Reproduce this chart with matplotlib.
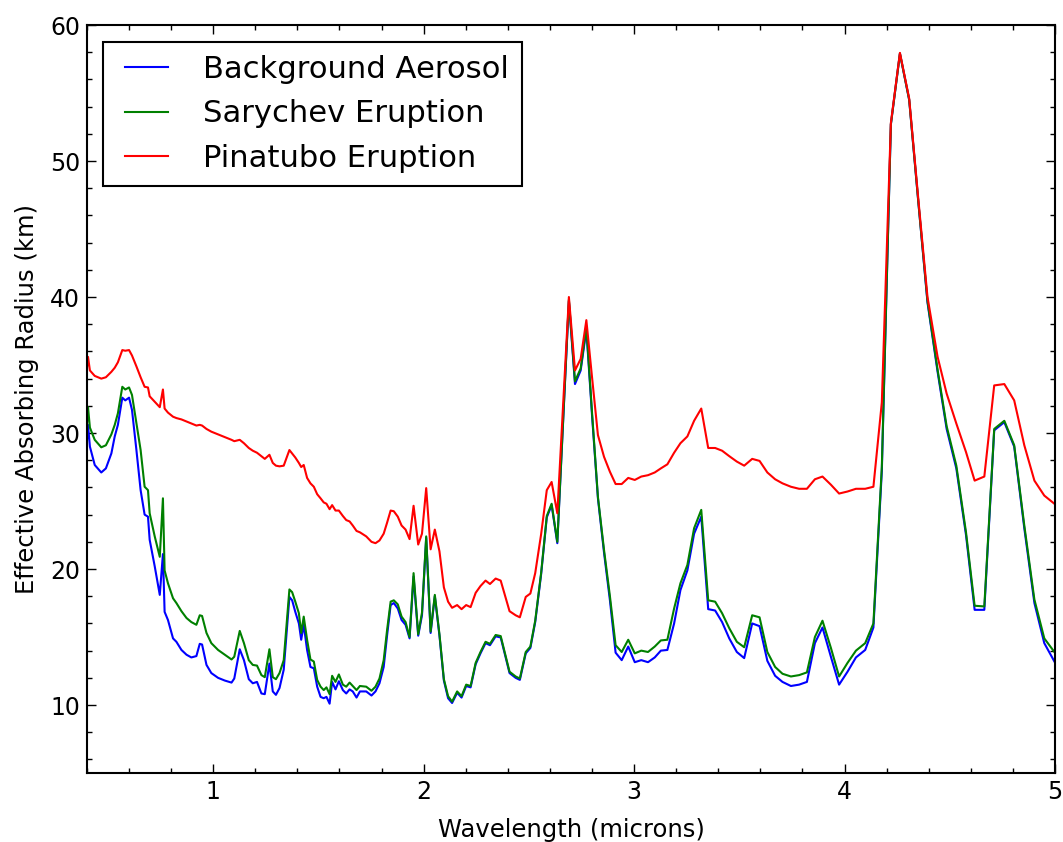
import matplotlib
matplotlib.use("Agg")
import matplotlib.pyplot as plt
from matplotlib.ticker import MultipleLocator

# Wavelength grid (microns)
wavelength = [
    0.400, 0.405, 0.414, 0.437, 0.468, 0.490, 0.516, 0.532, 0.547, 0.568,
    0.582, 0.600, 0.614, 0.635, 0.655, 0.674, 0.690, 0.698, 0.722, 0.746,
    0.761, 0.769, 0.785, 0.809, 0.825, 0.849, 0.873, 0.896, 0.920, 0.936,
    0.947, 0.968, 0.991, 1.023, 1.055, 1.087, 1.100, 1.126, 1.146, 1.169,
    1.188, 1.208, 1.229, 1.245, 1.267, 1.283, 1.298, 1.315, 1.335, 1.362,
    1.375, 1.390, 1.407, 1.418, 1.430, 1.446, 1.462, 1.478, 1.494, 1.510,
    1.525, 1.538, 1.553, 1.565, 1.581, 1.597, 1.616, 1.632, 1.648, 1.663,
    1.681, 1.697, 1.727, 1.752, 1.771, 1.790, 1.810, 1.826, 1.843, 1.858,
    1.877, 1.895, 1.914, 1.933, 1.952, 1.974, 1.992, 2.012, 2.033, 2.053,
    2.075, 2.096, 2.116, 2.135, 2.159, 2.180, 2.202, 2.223, 2.247, 2.270,
    2.294, 2.315, 2.342, 2.366, 2.408, 2.437, 2.457, 2.485, 2.507, 2.530,
    2.558, 2.585, 2.608, 2.635, 2.690, 2.719, 2.746, 2.773, 2.800, 2.828,
    2.857, 2.885, 2.912, 2.941, 2.972, 3.003, 3.034, 3.066, 3.098, 3.127,
    3.158, 3.190, 3.220, 3.253, 3.285, 3.319, 3.352, 3.385, 3.418, 3.452,
    3.488, 3.523, 3.561, 3.596, 3.633, 3.670, 3.705, 3.745, 3.784, 3.821,
    3.859, 3.895, 3.935, 3.974, 4.014, 4.054, 4.098, 4.137, 4.177, 4.220,
    4.263, 4.307, 4.351, 4.394, 4.442, 4.485, 4.531, 4.577, 4.618, 4.664,
    4.711, 4.759, 4.806, 4.854, 4.902, 4.949, 4.997,
]

# Effective absorbing radius (km)
background = [
    29.4, 30.6, 29.0, 27.65, 27.1, 27.4, 28.5, 29.75, 30.6, 32.6,
    32.4, 32.6, 31.7, 28.75, 25.8, 24.0, 23.85, 22.15, 20.2, 18.1,
    21.1, 16.85, 16.25, 14.9, 14.65, 14.05, 13.7, 13.5, 13.6, 14.5,
    14.45, 12.95, 12.35, 12.0, 11.8, 11.65, 11.95, 14.1, 13.3, 11.9,
    11.6, 11.7, 10.85, 10.8, 13.05, 11.0, 10.75, 11.25, 12.6, 17.95,
    17.7, 16.85, 16.0, 14.8, 15.9, 14.05, 12.8, 12.7, 11.35, 10.6,
    10.5, 10.6, 10.1, 11.7, 11.15, 11.75, 11.1, 10.85, 11.15, 11.0,
    10.55, 11.0, 11.0, 10.7, 11.0, 11.6, 12.8, 15.1, 17.35, 17.5,
    17.1, 16.25, 15.9, 14.9, 19.45, 15.1, 16.6, 22.3, 15.3, 18.0,
    15.1, 11.8, 10.5, 10.15, 10.9, 10.55, 11.4, 11.3, 13.0, 13.8,
    14.55, 14.4, 15.05, 14.97, 12.35, 12.0, 11.85, 13.8, 14.2, 16.1,
    19.6, 23.8, 24.7, 21.9, 39.7, 33.6, 34.6, 37.6, 31.3, 25.2,
    21.2, 17.7, 13.85, 13.3, 14.3, 13.15, 13.3, 13.15, 13.5, 14.0,
    14.05, 16.0, 18.45, 19.9, 22.6, 23.85, 17.05, 16.95, 16.1, 14.9,
    13.9, 13.45, 16.0, 15.8, 13.25, 12.15, 11.7, 11.4, 11.5, 11.7,
    14.55, 15.7, 13.55, 11.5, 12.45, 13.5, 14.05, 15.7, 27.2, 52.7,
    57.9, 54.5, 46.9, 39.6, 34.5, 30.3, 27.4, 22.5, 17.0, 17.0,
    30.2, 30.8, 29.0, 23.0, 17.5, 14.55, 13.2,
]

sarychev = [
    30.6, 31.9, 30.4, 29.5, 28.95, 29.1, 29.9, 30.6, 31.45, 33.4,
    33.2, 33.35, 32.8, 30.7, 28.75, 26.05, 25.8, 24.1, 22.4, 20.9,
    25.2, 19.9, 18.95, 17.85, 17.5, 16.9, 16.4, 16.1, 15.9, 16.6,
    16.55, 15.3, 14.55, 14.05, 13.7, 13.35, 13.55, 15.45, 14.55, 13.3,
    12.95, 12.9, 12.2, 12.05, 14.1, 12.05, 11.9, 12.35, 13.3, 18.5,
    18.3, 17.6, 16.75, 15.3, 16.5, 14.8, 13.35, 13.2, 11.85, 11.35,
    11.1, 11.3, 10.8, 12.15, 11.7, 12.25, 11.5, 11.35, 11.65, 11.4,
    11.1, 11.4, 11.35, 11.05, 11.35, 11.95, 13.3, 15.5, 17.6, 17.7,
    17.4, 16.5, 16.1, 15.0, 19.7, 15.2, 16.8, 22.4, 15.4, 18.1,
    15.2, 11.9, 10.65, 10.25, 11.0, 10.65, 11.5, 11.4, 13.1, 13.9,
    14.65, 14.5, 15.15, 15.07, 12.45, 12.1, 11.95, 13.9, 14.3, 16.2,
    19.7, 23.9, 24.8, 22.0, 39.8, 33.8, 34.75, 37.8, 31.5, 25.3,
    21.4, 18.0, 14.4, 13.9, 14.8, 13.8, 14.0, 13.9, 14.3, 14.75,
    14.8, 17.1, 18.95, 20.3, 23.0, 24.35, 17.7, 17.6, 16.75, 15.65,
    14.65, 14.25, 16.6, 16.45, 13.9, 12.8, 12.3, 12.1, 12.2, 12.4,
    15.0, 16.2, 14.2, 12.1, 13.1, 14.0, 14.55, 16.0, 27.5, 52.7,
    57.9, 54.5, 46.9, 39.7, 34.65, 30.5, 27.6, 22.7, 17.3, 17.25,
    30.3, 30.9, 29.1, 23.2, 17.75, 14.9, 13.9,
]

pinatubo = [
    34.8, 35.6, 34.6, 34.2, 34.0, 34.1, 34.5, 34.8, 35.2, 36.1,
    36.05, 36.1, 35.7, 34.9, 34.1, 33.4, 33.35, 32.7, 32.3, 31.9,
    33.2, 31.8, 31.5, 31.2, 31.1, 31.0, 30.85, 30.7, 30.55, 30.6,
    30.55, 30.3, 30.1, 29.9, 29.7, 29.5, 29.4, 29.5, 29.25, 28.9,
    28.7, 28.55, 28.3, 28.1, 28.4, 27.8, 27.6, 27.55, 27.6, 28.75,
    28.5, 28.2, 27.8, 27.5, 27.65, 26.7, 26.3, 26.05, 25.5, 25.2,
    24.9, 24.8, 24.4, 24.7, 24.3, 24.3, 23.9, 23.6, 23.5, 23.2,
    22.8, 22.7, 22.4, 22.0, 21.9, 22.1, 22.6, 23.4, 24.3, 24.25,
    23.85, 23.2, 22.9, 22.2, 24.65, 21.8, 22.6, 25.95, 21.45, 22.9,
    21.3, 18.65, 17.6, 17.15, 17.35, 17.05, 17.35, 17.2, 18.25, 18.75,
    19.15, 18.9, 19.3, 19.15, 16.9, 16.6, 16.45, 17.95, 18.2, 19.7,
    22.55, 25.8, 26.4, 24.1, 40.0, 34.6, 35.45, 38.3, 34.1, 29.85,
    28.25, 27.15, 26.25, 26.25, 26.7, 26.55, 26.8, 26.9, 27.1, 27.4,
    27.7, 28.55, 29.25, 29.75, 30.9, 31.8, 28.9, 28.9, 28.7, 28.3,
    27.9, 27.6, 28.1, 27.95, 27.1, 26.6, 26.3, 26.05, 25.9, 25.9,
    26.6, 26.8, 26.2, 25.55, 25.7, 25.9, 25.9, 26.05, 32.25, 52.8,
    57.95, 54.6, 47.1, 40.0, 35.6, 32.9, 30.7, 28.6, 26.5, 26.8,
    33.5, 33.6, 32.4, 29.1, 26.5, 25.4, 24.8,
]

series_labels = ["Background Aerosol", "Sarychev Eruption", "Pinatubo Eruption"]
x_label = "Wavelength (microns)"
y_label = "Effective Absorbing Radius (km)"

fig = plt.figure(figsize=(10.63, 8.42), dpi=100)
ax = fig.add_axes([0.0818, 0.0819, 0.9107, 0.8884])

lw = 1.5
ax.plot(wavelength, background, color=(0, 0, 1), lw=lw, label=series_labels[0])
ax.plot(wavelength, sarychev, color=(0, 0.5, 0), lw=lw, label=series_labels[1])
ax.plot(wavelength, pinatubo, color=(1, 0, 0), lw=lw, label=series_labels[2])

ax.set_xlim(0.4, 5.0)
ax.set_ylim(5, 60)
ax.xaxis.set_major_locator(MultipleLocator(1))
ax.xaxis.set_minor_locator(MultipleLocator(0.2))
ax.yaxis.set_major_locator(MultipleLocator(10))
ax.yaxis.set_minor_locator(MultipleLocator(2))

ax.tick_params(which="both", direction="in", top=True, right=True,
               width=1.0, color="black")
ax.tick_params(which="major", length=6.5, pad=5, labelsize=17)
ax.tick_params(which="minor", length=3.5)
for sp in ax.spines.values():
    sp.set_linewidth(1.5)

ax.set_xlabel(x_label, fontsize=17.5, labelpad=10)
ax.set_ylabel(y_label, fontsize=17.5, labelpad=8)

leg = ax.legend(loc="upper left", bbox_to_anchor=(0.0165, 0.977),
                borderaxespad=0, fontsize=22.1, numpoints=2,
                handlelength=2.0, handletextpad=0.85, borderpad=0.42,
                labelspacing=0.5, fancybox=False, framealpha=1,
                edgecolor="black")
leg.get_frame().set_linewidth(1.5)

fig.savefig("out.png", dpi=100)
